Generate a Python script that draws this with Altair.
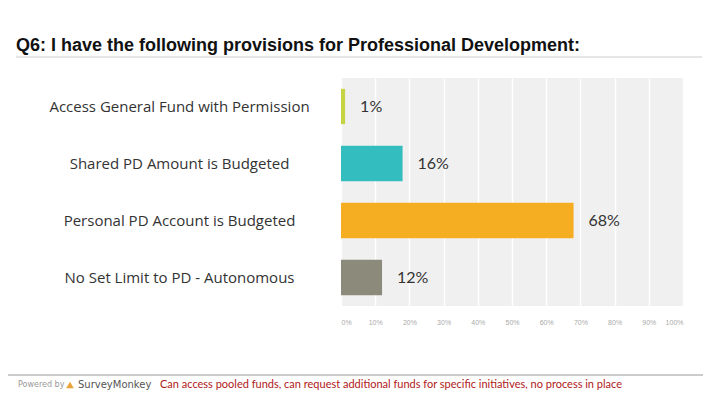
import altair as alt
import pandas as pd

categories = [
    "Access General Fund with Permission",
    "Shared PD Amount is Budgeted",
    "Personal PD Account is Budgeted",
    "No Set Limit to PD - Autonomous",
]
bar_pct = [1.2, 18, 68, 12]
label_text = ["1%", "16%", "68%", "12%"]
colors = ["#c6d443", "#34bdbf", "#f5ae22", "#8c8b7b"]
tick_values = [0, 10, 20, 30, 40, 50, 60, 70, 80, 90, 100]

title_text = "Q6: I have the following provisions for Professional Development:"
footer_text = "Can access pooled funds, can request additional funds for specific initiatives, no process in place"

df = pd.DataFrame({"cat": categories, "pct": bar_pct, "label": label_text, "color": colors})

W, H = 342, 228

y_enc = alt.Y(
    "cat:N",
    sort=categories,
    scale=alt.Scale(paddingInner=0.38, paddingOuter=0.19),
    axis=alt.Axis(
        title=None, ticks=False, domain=False, labelAlign="center",
        labelPadding=162, labelFontSize=15, labelFont="Open Sans",
        labelColor="#333333", labelLimit=400,
    ),
)
x_enc = alt.X(
    "pct:Q",
    scale=alt.Scale(domain=[0, 100], nice=False),
    axis=alt.Axis(
        title=None, values=tick_values, labelExpr="datum.value + '%'",
        labelFontSize=7, labelColor="#aaaaaa", labelPadding=12, labelOverlap=False,
        ticks=False, domain=False, grid=True, gridColor="#ffffff", gridWidth=1.5,
    ),
)

bars = alt.Chart(df).mark_bar().encode(
    x=x_enc, y=y_enc,
    color=alt.Color("color:N", scale=None),
)
labels = alt.Chart(df).mark_text(
    align="left", dx=15, fontSize=16, font="Lato", color="#333333"
).encode(x=x_enc, y=y_enc, text="label:N")

title = alt.Chart(df.head(1)).mark_text(
    align="left", baseline="alphabetic", fontSize=18, fontWeight="bold",
    font="Liberation Sans", color="#111111",
).encode(x=alt.value(-325), y=alt.value(-27), text=alt.value(title_text))

title_rule = alt.Chart(df.head(1)).mark_rule(color="#cccccc", strokeWidth=1).encode(
    x=alt.value(-325), x2=alt.value(361), y=alt.value(-21)
)
footer_rule = alt.Chart(df.head(1)).mark_rule(color="#cccccc", strokeWidth=2).encode(
    x=alt.value(-341), x2=alt.value(379), y=alt.value(297)
)
powered = alt.Chart(df.head(1)).mark_text(
    align="left", baseline="middle", fontSize=8, font="DejaVu Sans", color="#999999",
).encode(x=alt.value(-323), y=alt.value(307), text=alt.value("Powered by"))
monkey = alt.Chart(df.head(1)).mark_text(
    align="left", baseline="middle", fontSize=10, font="DejaVu Sans", color="#555555",
).encode(x=alt.value(-263), y=alt.value(307), text=alt.value("SurveyMonkey"))
logo = alt.Chart(df.head(1)).mark_point(
    shape="triangle-up", filled=True, size=60, color="#e8a33a", opacity=1
).encode(x=alt.value(-271), y=alt.value(307))
footer = alt.Chart(df.head(1)).mark_text(
    align="left", baseline="middle", fontSize=11, font="Lato", color="#b01818",
).encode(x=alt.value(-181), y=alt.value(307), text=alt.value(footer_text))

chart = alt.layer(
    bars, labels, title, title_rule, footer_rule, powered, logo, monkey, footer
).properties(
    width=W, height=H,
    background="#ffffff",
    autosize=alt.AutoSizeParams(type="none"),
    padding={"left": 333, "top": 70, "right": 20, "bottom": 91},
).configure_view(fill="#f0f0f0", strokeWidth=0)

chart.save("out.html", embed_options={"renderer": "svg", "actions": False})
